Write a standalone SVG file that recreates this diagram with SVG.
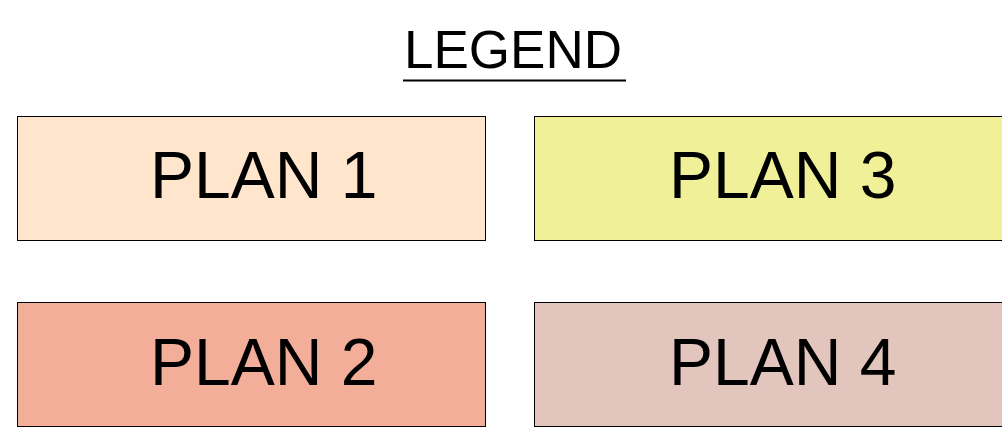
<svg xmlns="http://www.w3.org/2000/svg" width="1002" height="438" viewBox="0 0 1002 438">
<style>
.box{stroke:#000;stroke-width:1}
.lbl{font-family:"Liberation Sans",Arial,sans-serif;font-size:66px;fill:#000}
.title{font-family:"Liberation Sans",Arial,sans-serif;font-size:53px;fill:#000}
</style>
<rect width="1002" height="438" fill="#fff"/>
<g id="title">
<text class="title" x="404" y="68">LEGEND</text>
<line x1="403" y1="80.5" x2="626" y2="80.5" stroke="#000" stroke-width="2"/>
</g>
<g id="plan1">
<rect class="box" x="17.5" y="116.5" width="468" height="124" fill="#FFE5CC"/>
<text class="lbl" x="150" y="198">PLAN 1</text>
</g>
<g id="plan3">
<rect class="box" x="534.5" y="116.5" width="470" height="124" fill="#F0F098"/>
<text class="lbl" x="669" y="198">PLAN 3</text>
</g>
<g id="plan2">
<rect class="box" x="17.5" y="302.5" width="468" height="124" fill="#F2AE98"/>
<text class="lbl" x="150" y="385">PLAN 2</text>
</g>
<g id="plan4">
<rect class="box" x="534.5" y="302.5" width="470" height="124" fill="#E2C6BE"/>
<text class="lbl" x="669" y="385">PLAN 4</text>
</g>
<g id="connectors"/>
</svg>
